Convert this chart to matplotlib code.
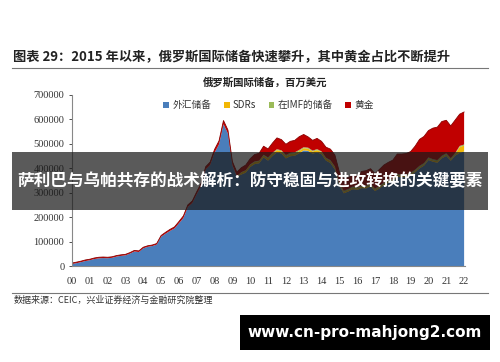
import numpy as np
import matplotlib.pyplot as plt
from matplotlib.patches import Rectangle

plt.rcParams['font.family'] = ['Noto Sans CJK SC', 'DejaVu Sans']

# quarterly, 2000Q1 .. 2022Q1, thousand of millions USD (i.e. bn)
total = [12.5, 16, 20, 25, 28, 33, 36, 37, 36, 38, 43, 46,
         48, 55, 64, 62, 77, 83, 86, 92, 125, 138, 150, 160,
         182, 205, 250, 266, 304, 339, 406, 425, 477, 512, 595, 556,
         427, 384, 402, 413, 439, 456, 461, 490, 479, 503, 524, 517,
         498, 510, 514, 529, 538, 528, 514, 522, 510, 486, 478, 454,
         385, 356, 362, 371, 368, 387, 390, 398, 378, 395, 413, 424,
         433, 458, 458, 460, 468, 490, 518, 530, 554, 564, 568, 591,
         596, 573, 597, 621, 630]
gold = [4.0, 4.1, 4.0, 4.3, 4.1, 4.1, 4.3, 4.3, 4.0, 4.0, 4.0, 4.2,
        4.0, 4.0, 4.2, 4.3, 4.2, 4.0, 4.1, 4.3, 4.8, 5.5, 6.0, 6.3,
        7.0, 8.5, 8.3, 8.5, 9.7, 10.5, 11.0, 12.0, 13.0, 14.2, 15.0, 14.0,
        14.5, 16.5, 18.0, 21.0, 23.0, 28.0, 30.0, 35.0, 35.0, 40.0, 46.0, 44.0,
        44.0, 47.0, 49.0, 54.0, 52.0, 44.0, 42.0, 44.0, 41.0, 43.0, 45.0, 47.0,
        46.0, 48.0, 47.0, 46.0, 46.0, 58.0, 62.0, 61.0, 61.0, 67.0, 72.0, 73.0,
        77.0, 82.0, 84.0, 86.0, 87.0, 96.0, 108.0, 109.0, 110.0, 127.0, 135.0, 140.0,
        135.0, 132.0, 135.0, 130.0, 133.0]
sdr = [0.0] * 38 + [9.0] * 22 + [6.0] * 27 + [24.0, 24.0]
imf = [0.0] * 36 + [1.0] * 4 + [2.0] * 4 + [4.0] * 4 + [5.0] * 4 + [4.0] * 4 + [3.0] * 4 + [4.5] * 28 + [4.5]

year_labels = ['00', '01', '02', '03', '04', '05', '06', '07', '08', '09', '10',
               '11', '12', '13', '14', '15', '16', '17', '18', '19', '20', '21', '22']
series_names = ['外汇储备', 'SDRs', '在IMF的储备', '黄金']
colors = ['#4a7ebb', '#f2b705', '#9bbb59', '#c00000']

total = np.array(total) * 1000
gold = np.array(gold) * 1000
sdr = np.array(sdr) * 1000
imf = np.array(imf) * 1000
fx = total - gold - sdr - imf
t = np.arange(len(total)) / 4.0

fig = plt.figure(figsize=(5, 3.62), dpi=100)
ax = fig.add_axes([0.144, 0.265, 0.786, 0.473])

ax.stackplot(t, fx, sdr, imf, gold, colors=colors, labels=series_names, linewidth=0)
ax.plot(t, total, color='#8b0000', lw=0.6)

ax.set_xlim(0, 22.05)
ax.set_ylim(0, 700000)
ax.set_xticks(range(len(year_labels)))
ax.set_xticklabels(year_labels, family='Liberation Serif', fontsize=7.5)
ax.set_yticks(range(0, 700001, 100000))
ax.set_yticklabels([str(v) for v in range(0, 700001, 100000)], family='Liberation Serif', fontsize=7.5)
ax.tick_params(axis='x', length=0, pad=8, colors='#333333')
ax.tick_params(axis='y', length=2, direction='out', colors='#333333', width=0.6)
for s in ['top', 'right']:
    ax.spines[s].set_visible(False)
for s in ['left', 'bottom']:
    ax.spines[s].set_color('#888888')
    ax.spines[s].set_linewidth(0.8)

ax.legend(loc='upper center', bbox_to_anchor=(0.5, 1.02), ncol=4, frameon=False,
          fontsize=7, handlelength=0.6, handleheight=0.6, handletextpad=0.3,
          columnspacing=1.3, labelcolor='#333333')

# header / footer
fig.text(0.026, 0.842, '图表 29：2015 年以来，俄罗斯国际储备快速攀升，其中黄金占比不断提升',
         fontsize=9.5, fontweight='bold', color='#222222', va='center')
fig.add_artist(plt.Line2D([0.024, 0.976], [0.812, 0.812], color='#777777', lw=0.8))
fig.text(0.53, 0.771, '俄罗斯国际储备，百万美元', fontsize=7.5, fontweight='bold',
         color='#222222', ha='center', va='center')
fig.add_artist(plt.Line2D([0.024, 0.976], [0.19, 0.19], color='#777777', lw=0.8))
fig.text(0.028, 0.171, '数据来源：CEIC，兴业证券经济与金融研究院整理', fontsize=6.5,
         color='#333333', va='center')

# overlay banner
fig.add_artist(Rectangle((0.024, 0.42), 0.952, 0.16, transform=fig.transFigure,
                         facecolor='#1a1a1a', alpha=0.72, edgecolor='none'))
fig.text(0.5, 0.5, '萨利巴与乌帕共存的战术解析：防守稳固与进攻转换的关键要素',
         fontsize=12, fontweight='bold', color='white', ha='center', va='center')

# watermark box
fig.add_artist(Rectangle((0.48, 0.033), 0.5, 0.097, transform=fig.transFigure,
                         facecolor='black', edgecolor='none'))
fig.text(0.73, 0.081, 'www.cn-pro-mahjong2.com', fontsize=11, fontweight='bold',
         color='white', ha='center', va='center', family='DejaVu Sans')

fig.savefig('out.png', dpi=100)
